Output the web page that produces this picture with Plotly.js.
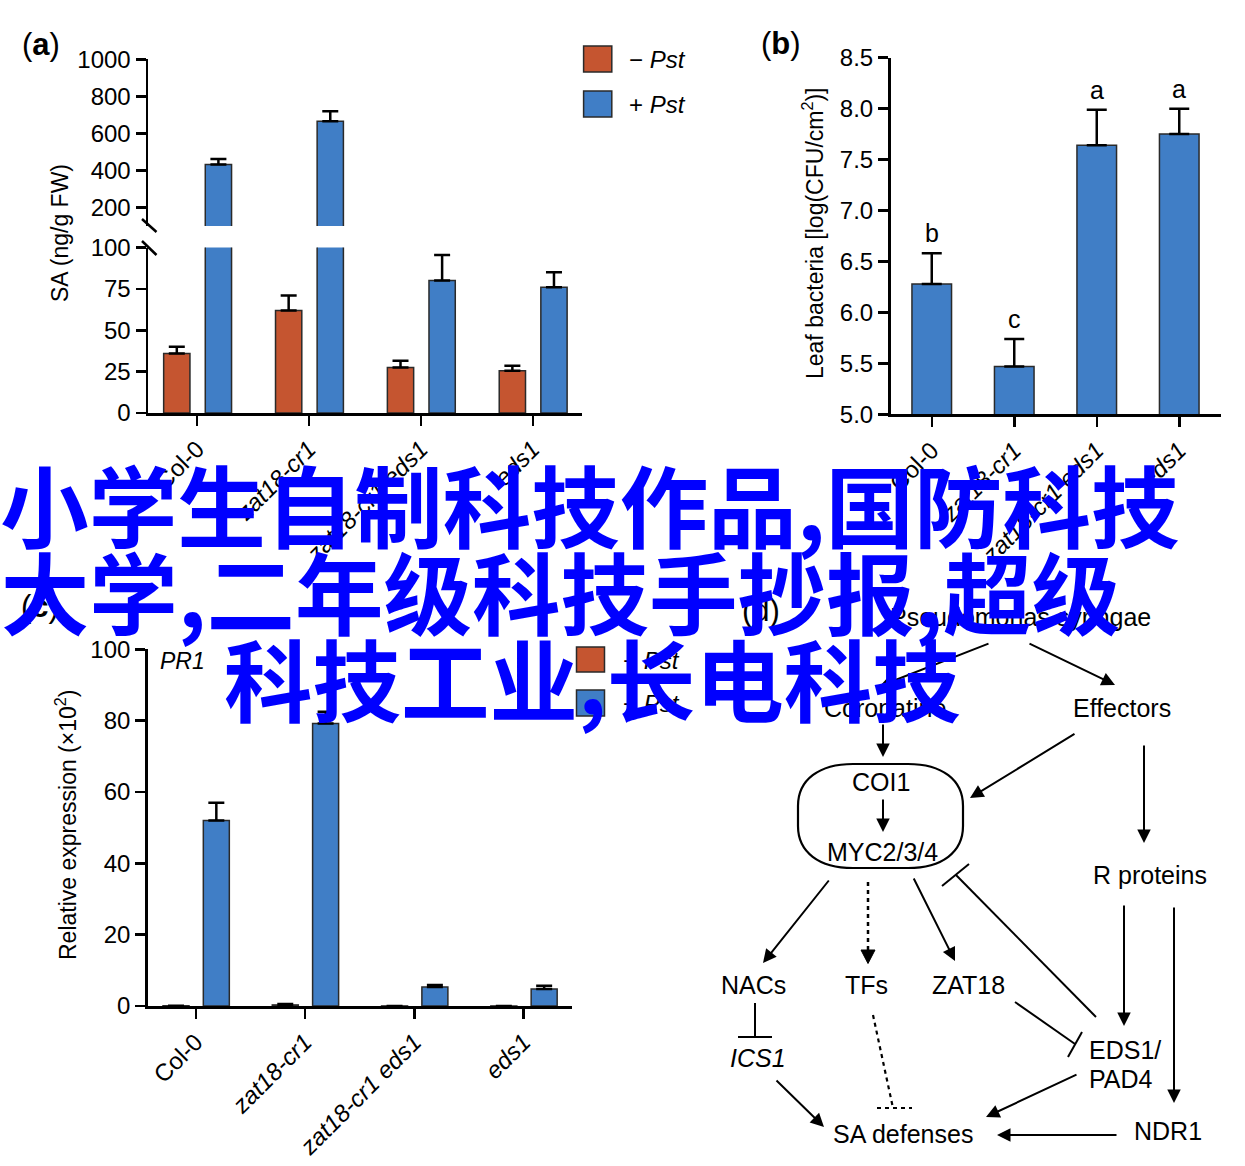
<!DOCTYPE html>
<html><head><meta charset="utf-8">
<script src="https://cdn.plot.ly/plotly-3.0.1.min.js"></script>
<style>
html,body{margin:0;padding:0;background:#fff;}
#chart{width:1245px;height:1166px;position:absolute;left:0;top:0;}
#overlay{position:absolute;left:0;top:459px;width:1180px;text-align:center;font-family:"Noto Sans CJK SC","Noto Sans CJK TC",sans-serif;font-weight:700;font-size:88.5px;line-height:87px;color:#0000ff;pointer-events:none;white-space:nowrap;}
#overlay div{display:block;}
</style></head><body>
<div id="chart"></div>
<div id="overlay"><div>小学生自制科技作品,国防科技</div><div style="padding-right:59px">大学,二年级科技手抄报,超级</div><div style="padding-left:5px">科技工业,长电科技</div></div>
<script>
// ---------------- data ----------------
const categories = ['Col-0', 'zat18-cr1', 'zat18-cr1 eds1', 'eds1'];
const tickLabels = ['Col-0', '<i>zat18-cr1</i>', '<i>zat18-cr1 eds1</i>', '<i>eds1</i>'];
const yTicksSALow = [0, 25, 50, 75, 100];
const yTicksSAHigh = [200, 400, 600, 800, 1000];
const yTicksPR1 = [0, 20, 40, 60, 80, 100];

const saMinus = [36, 62, 27.5, 25.5];
const saMinusErr = [4, 9, 4, 3];
const saPlus = [432, 665, 80, 76];
const saPlusErr = [30, 54, 15.5, 9];

const bacteria = [6.28, 5.47, 7.64, 7.75];
const bacteriaErr = [0.30, 0.27, 0.35, 0.25];
const bacteriaLetters = ['b', 'c', 'a', 'a'];

const pr1Minus = [0.05, 0.3, 0.02, 0.02];
const pr1MinusErr = [0, 0.25, 0, 0];
const pr1Plus = [52, 79.2, 5.3, 4.8];
const pr1PlusErr = [5, 3.3, 0.6, 0.9];

// ---------------- helpers ----------------
const W = 1245, H = 1166;
const px = x => x / W;
const py = y => 1 - y / H;
const ORANGE = '#C55530', BLUE = '#407EC6', EDGE = '#2a2a2a';
const FONT = 'Liberation Sans, Arial, Helvetica, sans-serif';
const BREAK = 100; // axis break value of panel a

function bar(y, err, color, xa, ya, offset, width, capw) {
  return {
    type: 'bar', x: categories, y: y, xaxis: xa, yaxis: ya,
    offset: offset, width: width,
    marker: {color: color, line: {color: EDGE, width: 1.5}},
    error_y: {type: 'data', symmetric: false, array: err, arrayminus: err.map(() => 0),
      color: '#000', thickness: 2.5, width: capw, visible: true},
    showlegend: false, hoverinfo: 'x+y'
  };
}

const saPlusHigh = saPlus.map(v => (v > BREAK ? v : null));
const saPlusErrHigh = saPlus.map((v, i) => (v > BREAK ? saPlusErr[i] : 0));

const data = [
  // panel a (lower + upper segments of broken axis)
  bar(saMinus, saMinusErr, ORANGE, 'x', 'y', -0.30, 0.235, 8),
  bar(saPlus, saPlusErr, BLUE, 'x', 'y', 0.072, 0.235, 8),
  bar(saPlusHigh, saPlusErrHigh, BLUE, 'x', 'y2', 0.072, 0.235, 8),
  // panel b
  bar(bacteria, bacteriaErr, BLUE, 'x2', 'y3', -0.24, 0.48, 10),
  // panel c
  bar(pr1Minus, pr1MinusErr, ORANGE, 'x3', 'y4', -0.30, 0.238, 8),
  bar(pr1Plus, pr1PlusErr, BLUE, 'x3', 'y4', 0.069, 0.238, 8)
];

const axBase = {
  showline: true, linecolor: '#000', linewidth: 2.5, ticks: 'outside', ticklen: 10,
  tickwidth: 2.5, tickcolor: '#000', showgrid: false, zeroline: false,
  tickfont: {family: FONT, size: 24, color: '#000'}, fixedrange: true
};
const xCat = (dom, anchor, range) => Object.assign({}, axBase, {
  domain: dom, anchor: anchor, type: 'category', range: range,
  categoryorder: 'array', categoryarray: categories,
  tickmode: 'array', tickvals: categories, ticktext: tickLabels, tickangle: -45
});
const yLin = (dom, anchor, range, extra) => Object.assign({}, axBase, {
  domain: dom, anchor: anchor, range: range
}, extra);

// ---------------- annotations ----------------
const ann = [];
function txt(x, y, text, size, opts) {
  ann.push(Object.assign({xref: 'paper', yref: 'paper', x: px(x), y: py(y), text: text,
    showarrow: false, xanchor: 'center', yanchor: 'middle',
    font: {family: FONT, size: size, color: '#000'}}, opts || {}));
}
// panel letters
txt(41, 45, '(<b>a</b>)', 31);
txt(781, 44, '(<b>b</b>)', 31);
txt(40, 606, '(<b>c</b>)', 31);
txt(761, 610, '(d)', 31);
// axis titles
txt(60, 233, 'SA (ng/g FW)', 23, {textangle: -90});
txt(813, 233, 'Leaf bacteria [log(CFU/cm<sup>2</sup>)]', 23, {textangle: -90});
txt(66, 825, 'Relative expression (×10<sup>2</sup>)', 23, {textangle: -90});
txt(182, 661, '<i>PR1</i>', 23);
// legends text
txt(627, 59, '− <i>Pst</i>', 24, {xanchor: 'left'});
txt(627, 104, '+ <i>Pst</i>', 24, {xanchor: 'left'});
txt(621, 660, '− <i>Pst</i>', 24, {xanchor: 'left'});
txt(621, 703, '+ <i>Pst</i>', 24, {xanchor: 'left'});
// significance letters panel b
categories.forEach((c, i) => {
  ann.push({xref: 'x2', yref: 'y3', x: c, y: bacteria[i] + bacteriaErr[i], text: bacteriaLetters[i],
    showarrow: false, yanchor: 'bottom', yshift: 4, font: {family: FONT, size: 25, color: '#000'}});
});

// panel d texts
const diagramNodes = [
  ['Pseudomonas syringae', 1020, 617],
  ['Coronatine', 885, 708],
  ['Effectors', 1122, 708],
  ['COI1', 881, 782],
  ['MYC2/3/4', 882, 852],
  ['R proteins', 1150, 875],
  ['NACs', 753, 985],
  ['TFs', 866, 985],
  ['ZAT18', 968, 985],
  ['<i>ICS1</i>', 758, 1058],
  ['SA defenses', 903, 1134],
  ['NDR1', 1168, 1131]
];
diagramNodes.forEach(n => txt(n[1], n[2], n[0], 25));
txt(1087, 1050, 'EDS1/', 25, {xanchor: 'left'});
txt(1087, 1079, 'PAD4', 25, {xanchor: 'left'});

// arrows [tailX, tailY, headX, headY]
const diagramArrows = [
  [990, 643, 880, 686],
  [1028, 643, 1115, 685],
  [883, 723, 883, 757],
  [883, 798, 883, 832],
  [1076, 733, 970, 798],
  [1144, 744, 1144, 843],
  [830, 879, 763, 963],
  [913, 877, 955, 961],
  [775, 1079, 824, 1127],
  [1124, 904, 1124, 1026],
  [1174, 906, 1174, 1103],
  [1078, 1074, 986, 1117],
  [1118, 1135, 997, 1135]
];
diagramArrows.forEach(a => {
  ann.push({xref: 'paper', yref: 'paper', axref: 'paper', ayref: 'paper',
    x: px(a[2]), y: py(a[3]), ax: px(a[0]), ay: py(a[1]), text: '',
    showarrow: true, arrowhead: 2, arrowsize: 1.35, arrowwidth: 2, arrowcolor: '#000', standoff: 0});
});

// ---------------- shapes ----------------
const shapes = [];
function line(x0, y0, x1, y1, w, dash) {
  shapes.push({type: 'line', xref: 'paper', yref: 'paper', x0: px(x0), y0: py(y0), x1: px(x1), y1: py(y1),
    line: {color: '#000', width: w || 2, dash: dash || 'solid'}});
}
function rect(x0, y0, x1, y1, color) {
  shapes.push({type: 'rect', xref: 'paper', yref: 'paper', x0: px(x0), y0: py(y0), x1: px(x1), y1: py(y1),
    fillcolor: color, line: {color: EDGE, width: 1.5}});
}
// broken-axis marks
line(142, 219, 156.5, 232, 2.5);
line(142, 241, 156.5, 255, 2.5);
// legend swatches
rect(583.6, 46, 611.8, 72, ORANGE);
rect(583.6, 91, 611.8, 117, BLUE);
rect(576.5, 647, 604.5, 672, ORANGE);
rect(576.5, 690, 604.5, 716, BLUE);

// stadium around COI1 / MYC2/3/4
(function () {
  const x0 = 798, y0 = 764, x1 = 963, y1 = 868, rx = 55, ry = 42, k = 0.62;
  const P = (x, y) => px(x) + ',' + py(y);
  const d = 'M' + P(x0 + rx, y0) + ' L' + P(x1 - rx, y0) +
    ' C' + P(x1 - rx + k * rx, y0) + ' ' + P(x1, y0 + ry - k * ry) + ' ' + P(x1, y0 + ry) +
    ' L' + P(x1, y1 - ry) +
    ' C' + P(x1, y1 - ry + k * ry) + ' ' + P(x1 - rx + k * rx, y1) + ' ' + P(x1 - rx, y1) +
    ' L' + P(x0 + rx, y1) +
    ' C' + P(x0 + rx - k * rx, y1) + ' ' + P(x0, y1 - ry + k * ry) + ' ' + P(x0, y1 - ry) +
    ' L' + P(x0, y0 + ry) +
    ' C' + P(x0, y0 + ry - k * ry) + ' ' + P(x0 + rx - k * rx, y0) + ' ' + P(x0 + rx, y0) + ' Z';
  shapes.push({type: 'path', xref: 'paper', yref: 'paper', path: d, line: {color: '#000', width: 2.2}, fillcolor: 'rgba(0,0,0,0)'});
  // dotted arrow head (MYC -> TFs)
  const t = 'M' + P(861, 950) + ' L' + P(875, 950) + ' L' + P(868, 963.5) + ' Z';
  shapes.push({type: 'path', xref: 'paper', yref: 'paper', path: t, line: {color: '#000', width: 1}, fillcolor: '#000'});
})();
// dotted MYC -> TFs
line(868, 882, 868, 950, 2.5, '4px,4px');
// inhibitions
line(1096, 1017, 956, 875, 2);
line(942, 886, 969, 864, 2);
line(755, 1003, 755, 1037, 2);
line(738, 1037, 772, 1037, 2);
line(873, 1015, 893, 1108, 2.2, '4px,4px');
line(877, 1108, 912, 1108, 2.2, '4px,4px');
line(1015, 1002, 1075, 1044, 2);
line(1068, 1057, 1082, 1032, 2);

const layout = {
  width: W, height: H, margin: {l: 0, r: 0, t: 0, b: 0},
  paper_bgcolor: '#fff', plot_bgcolor: 'rgba(0,0,0,0)',
  barmode: 'group', showlegend: false,
  font: {family: FONT, color: '#000'},
  xaxis: xCat([px(148), px(582)], 'y', [-0.44, 3.44]),
  yaxis: yLin([py(413), py(247.5)], 'x', [0, BREAK], {tickmode: 'array', tickvals: yTicksSALow}),
  yaxis2: yLin([py(226), py(59.3)], 'x', [BREAK, 1000], {tickmode: 'array', tickvals: yTicksSAHigh}),
  xaxis2: xCat([px(890.5), px(1220.5)], 'y3', [-0.5, 3.5]),
  yaxis3: yLin([py(414.3), py(57.7)], 'x2', [5, 8.5], {tick0: 5, dtick: 0.5, tickformat: '.1f'}),
  xaxis3: xCat([px(147.7), px(571.7)], 'y4', [-0.44, 3.44]),
  yaxis4: yLin([py(1006), py(649.3)], 'x3', [0, 100], {tickmode: 'array', tickvals: yTicksPR1}),
  annotations: ann,
  shapes: shapes
};

Plotly.newPlot('chart', data, layout, {staticPlot: true, displayModeBar: false});
</script>
</body></html>
